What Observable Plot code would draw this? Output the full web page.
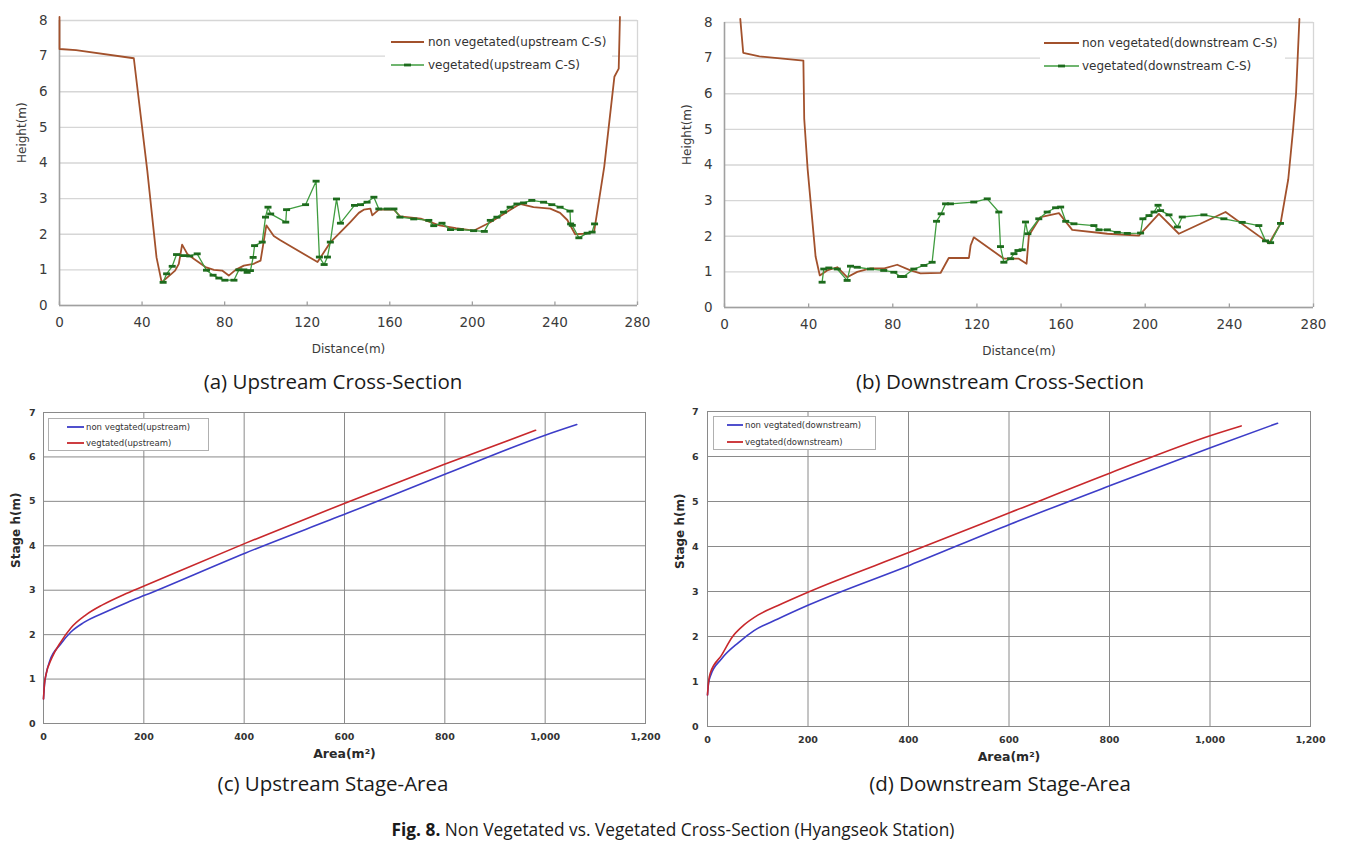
<!DOCTYPE html>
<html>
<head>
<meta charset="utf-8">
<script src="https://cdn.jsdelivr.net/npm/d3@7"></script>
<script src="https://cdn.jsdelivr.net/npm/@observablehq/plot@0.6"></script>
<style>
  html, body { margin: 0; padding: 0; background: #fff; }
  #page { position: relative; width: 1346px; height: 851px; overflow: hidden; background: #fff; }
  .panel { position: absolute; }
  .cap { position: absolute; font-family: "Open Sans", "Noto Sans", sans-serif; color: #1a1a1a; white-space: nowrap; transform: translateX(-50%); line-height: 1.3; }
  .leg { position: absolute; background: #fff; }
</style>
</head>
<body>
<div id="page"></div>
<script>
// ---------- DATA ----------
// (a) Upstream cross-section
const usNonX = [0, 0, 8, 36, 42.5, 47, 49.5, 56, 57.8, 59.4, 61.9, 65, 70.7, 74.8, 78.8, 82, 85.3, 89.3, 94, 97.4, 100.2, 103.8, 107, 125, 131.3, 136, 141, 145, 147.4, 150.6, 151.5, 154.7, 162, 165, 175, 184, 192, 200.6, 208.5, 216, 223, 229.6, 237.7, 242.5, 246, 249.8, 255, 259, 263.9, 268.8, 270.9, 271.5];
const usNonY = [8.1, 7.2, 7.17, 6.94, 3.8, 1.35, 0.65, 0.98, 1.17, 1.71, 1.45, 1.31, 1.08, 1.0, 0.98, 0.84, 1.0, 1.12, 1.17, 1.26, 2.25, 1.95, 1.83, 1.22, 1.78, 2.05, 2.35, 2.6, 2.69, 2.72, 2.53, 2.69, 2.69, 2.5, 2.44, 2.25, 2.17, 2.1, 2.33, 2.6, 2.85, 2.76, 2.72, 2.6, 2.4, 2.0, 2.02, 2.08, 3.9, 6.42, 6.65, 8.1];
const usVegX = [50.2, 51.9, 54.6, 56.7, 60.2, 63.1, 66.7, 71.2, 74.4, 77.2, 80.1, 84.5, 86.9, 89.3, 90.9, 92.5, 93.8, 94.5, 98.2, 99.8, 101, 102.3, 109.6, 110, 119.2, 124.3, 125.9, 128.2, 129.8, 131.2, 134.2, 136.1, 142.9, 145.8, 149, 152.3, 154.7, 158.7, 162, 164.9, 171.6, 178.9, 181.3, 185.3, 189.4, 194.2, 200.6, 205.8, 208.7, 211.9, 215.1, 218.3, 221.6, 224.8, 228.8, 234.5, 238.5, 242.5, 247.3, 247.6, 248.4, 251.6, 255.6, 258, 259.2];
const usVegY = [0.65, 0.89, 1.1, 1.43, 1.4, 1.39, 1.45, 0.99, 0.85, 0.77, 0.71, 0.71, 1.0, 1.0, 0.93, 0.98, 1.35, 1.68, 1.78, 2.48, 2.76, 2.57, 2.34, 2.69, 2.83, 3.49, 1.36, 1.15, 1.36, 1.78, 2.99, 2.31, 2.81, 2.83, 2.9, 3.04, 2.71, 2.71, 2.71, 2.48, 2.43, 2.39, 2.24, 2.31, 2.13, 2.13, 2.1, 2.08, 2.39, 2.48, 2.62, 2.76, 2.85, 2.88, 2.95, 2.9, 2.83, 2.76, 2.65, 2.29, 2.25, 1.9, 2.03, 2.06, 2.29];

// (b) Downstream cross-section
const dsNonX = [7.5, 8.9, 16.6, 37.5, 37.9, 39.5, 43.3, 45.3, 48.8, 53.6, 58.3, 63.1, 69.4, 76, 82.1, 88.4, 93.2, 102.7, 106.6, 116.2, 117, 118.5, 132.8, 139.9, 143.6, 144.7, 150.2, 159, 165.3, 182, 197, 206.5, 216, 238.2, 258.9, 264.3, 268, 270.3, 271.7, 272.3, 273.3];
const dsNonY = [8.1, 7.15, 7.05, 6.93, 5.3, 3.9, 1.43, 0.9, 1.04, 1.13, 0.85, 1.0, 1.1, 1.1, 1.2, 1.04, 0.96, 0.97, 1.39, 1.39, 1.74, 1.97, 1.37, 1.37, 1.23, 2.02, 2.54, 2.65, 2.18, 2.07, 2.02, 2.63, 2.07, 2.68, 1.8, 2.35, 3.6, 5.0, 6.0, 6.77, 8.1];
const dsVegX = [46.4, 47.2, 49.6, 53.6, 58.3, 59.9, 63.1, 69.4, 75.7, 80.5, 83.7, 85.2, 90, 94.8, 98.7, 100.8, 103, 105.1, 107.4, 118.5, 124.9, 130.4, 131.2, 132.8, 136, 137.6, 139.5, 141.5, 143.1, 144.2, 149.4, 153.4, 157.4, 159.8, 162.2, 166.1, 175.6, 178, 182, 186.7, 191.5, 197.8, 198.9, 201.8, 204.2, 206.1, 207.3, 211.3, 215.3, 217.6, 227.9, 237.4, 246.1, 254, 257.2, 259.6, 264.3];
const dsVegY = [0.71, 1.08, 1.11, 1.08, 0.76, 1.16, 1.13, 1.08, 1.04, 0.99, 0.87, 0.87, 1.08, 1.18, 1.27, 2.42, 2.63, 2.91, 2.91, 2.96, 3.05, 2.68, 1.71, 1.27, 1.37, 1.51, 1.6, 1.62, 2.4, 2.07, 2.49, 2.68, 2.8, 2.82, 2.42, 2.35, 2.3, 2.18, 2.18, 2.11, 2.08, 2.09, 2.49, 2.58, 2.68, 2.87, 2.72, 2.6, 2.26, 2.54, 2.6, 2.49, 2.39, 2.3, 1.87, 1.82, 2.36];

// (c) Upstream stage-area
const usNonArea  = [0, 2, 5, 12.6, 33.6, 54.6, 79.8, 126, 168, 203, 403, 605, 802.5, 1000, 1063];
const usNonStage = [0.55, 0.88, 1.1, 1.41, 1.78, 2.06, 2.27, 2.52, 2.73, 2.89, 3.84, 4.73, 5.62, 6.49, 6.73];
const usVegArea  = [0, 2, 5, 16.8, 33.6, 54.6, 84, 117.6, 159.7, 201.7, 403, 600.8, 798, 981];
const usVegStage = [0.55, 0.9, 1.1, 1.48, 1.82, 2.15, 2.44, 2.67, 2.9, 3.1, 4.06, 4.96, 5.83, 6.6];

// (d) Downstream stage-area
const dsNonArea  = [0, 2, 6, 27.7, 62.3, 92.6, 140, 201, 401.7, 603.5, 802.9, 1004.8, 1134.5];
const dsNonStage = [0.7, 0.95, 1.13, 1.5, 1.87, 2.13, 2.39, 2.7, 3.58, 4.5, 5.36, 6.21, 6.74];
const dsVegArea  = [0, 2, 6, 27.7, 49.4, 71, 101, 140.3, 201, 401.7, 603.5, 802.9, 1004.8, 1062];
const dsVegStage = [0.7, 0.98, 1.2, 1.58, 1.99, 2.24, 2.48, 2.69, 2.99, 3.87, 4.76, 5.64, 6.48, 6.68];

// Ticks
const distTicks = [0, 40, 80, 120, 160, 200, 240, 280];
const heightTicks = [0, 1, 2, 3, 4, 5, 6, 7, 8];
const areaTicks = [0, 200, 400, 600, 800, 1000, 1200];
const stageTicks = [0, 1, 2, 3, 4, 5, 6, 7];

// Texts
const legendA = ["non vegetated(upstream C-S)", "vegetated(upstream C-S)"];
const legendB = ["non vegetated(downstream C-S)", "vegetated(downstream C-S)"];
const legendC = ["non vegtated(upstream)", "vegtated(upstream)"];
const legendD = ["non vegtated(downstream)", "vegtated(downstream)"];
const captions = ["(a) Upstream Cross-Section", "(b) Downstream Cross-Section", "(c) Upstream Stage-Area", "(d) Downstream Stage-Area"];
const figLabel = "Fig. 8.";
const figTitle = " Non Vegetated vs. Vegetated Cross-Section (Hyangseok Station)";

// ---------- STYLE ----------
const BROWN = "#a2512c";
const GREEN = "#3f9c3f";
const DKGREEN = "#1d6b1d";
const BLUE = "#3d3dc8";
const RED = "#c8282c";

const zip = (xs, ys) => xs.map((x, i) => ({x, y: ys[i]}));

const dash = {
  draw(ctx) {
    ctx.moveTo(-3.5, -1.4); ctx.lineTo(3.5, -1.4); ctx.lineTo(3.5, 1.4); ctx.lineTo(-3.5, 1.4); ctx.closePath();
  }
};

function crossSection({nonX, nonY, vegX, vegY, width, height, marginLeft, marginRight, marginTop, marginBottom}) {
  const non = zip(nonX, nonY);
  const veg = zip(vegX, vegY);
  return Plot.plot({
    width, height, marginLeft, marginRight, marginTop, marginBottom,
    style: {fontFamily: "DejaVu Sans, sans-serif", fontSize: "13.5px", color: "#3a3a3a", overflow: "visible", background: "transparent"},
    x: {domain: [0, 280], ticks: distTicks, label: null},
    y: {domain: [0, 8], ticks: heightTicks, label: null},
    marks: [
      Plot.gridY(heightTicks, {stroke: "#d6d6d6", strokeOpacity: 1, strokeWidth: 1.3}),
      Plot.ruleX([280], {stroke: "#d6d6d6", strokeWidth: 1.3}),
      Plot.ruleX([0], {stroke: "#a0a0a0", strokeWidth: 1.6}),
      Plot.ruleY([0], {stroke: "#a0a0a0", strokeWidth: 1.6}),
      Plot.ruleX(distTicks, {y1: 0, y2: 0.1, stroke: "#a0a0a0", strokeWidth: 1.3}),
      Plot.axisX(distTicks, {tickSize: 0, tickPadding: 12, label: null}),
      Plot.axisY(heightTicks, {tickSize: 0, tickPadding: 12, label: null}),
      Plot.text(["Distance(m)"], {frameAnchor: "bottom", dy: 44, lineAnchor: "middle", fontSize: 12, fill: "#3a3a3a"}),
      Plot.text(["Height(m)"], {frameAnchor: "left", dx: -37, rotate: -90, lineAnchor: "middle", fontSize: 12, fill: "#3a3a3a"}),
      Plot.line(non, {x: "x", y: "y", stroke: BROWN, strokeWidth: 1.8}),
      Plot.line(veg, {x: "x", y: "y", stroke: GREEN, strokeWidth: 1.3}),
      Plot.dot(veg, {x: "x", y: "y", symbol: dash, fill: DKGREEN, stroke: "none", r: 3})
    ]
  });
}

function stageArea({nonA, nonS, vegA, vegS, width, height, marginLeft, marginRight, marginTop, marginBottom, ypad}) {
  const non = zip(nonA, nonS);
  const veg = zip(vegA, vegS);
  return Plot.plot({
    width, height, marginLeft, marginRight, marginTop, marginBottom,
    style: {fontFamily: "DejaVu Sans, sans-serif", fontSize: "9.5px", fontWeight: "bold", color: "#333", overflow: "visible", background: "transparent"},
    x: {domain: [0, 1200], ticks: areaTicks, tickFormat: d3.format(","), label: null},
    y: {domain: [0, 7], ticks: stageTicks, label: null},
    marks: [
      Plot.gridX(areaTicks, {stroke: "#8a8a8a", strokeOpacity: 1, strokeWidth: 1}),
      Plot.gridY(stageTicks, {stroke: "#8a8a8a", strokeOpacity: 1, strokeWidth: 1}),
      Plot.frame({stroke: "#8a8a8a"}),
      Plot.axisX(areaTicks, {tickSize: 0, tickPadding: 10, tickFormat: d3.format(","), label: null}),
      Plot.axisY(stageTicks, {tickSize: 0, tickPadding: ypad, label: null}),
      Plot.text(["Area(m²)"], {frameAnchor: "bottom", dy: 30, lineAnchor: "middle", fontSize: 12.5, fontWeight: "bold", fill: "#2a2a2a"}),
      Plot.text(["Stage h(m)"], {frameAnchor: "left", dx: -27, rotate: -90, lineAnchor: "middle", fontSize: 12, fontWeight: "bold", fill: "#2a2a2a"}),
      Plot.line(non, {x: "x", y: "y", stroke: BLUE, strokeWidth: 1.6, curve: "monotone-x"}),
      Plot.line(veg, {x: "x", y: "y", stroke: RED, strokeWidth: 1.6, curve: "monotone-x"})
    ]
  });
}

const page = document.getElementById("page");
function place(node, left, top) {
  const d = document.createElement("div");
  d.className = "panel";
  d.style.left = left + "px";
  d.style.top = top + "px";
  d.appendChild(node);
  page.appendChild(d);
  return d;
}

place(crossSection({nonX: usNonX, nonY: usNonY, vegX: usVegX, vegY: usVegY,
  width: 660, height: 365, marginLeft: 59, marginRight: 23, marginTop: 20, marginBottom: 60}), 0, 0);
place(crossSection({nonX: dsNonX, nonY: dsNonY, vegX: dsVegX, vegY: dsVegY,
  width: 670, height: 367, marginLeft: 59, marginRight: 22, marginTop: 22, marginBottom: 60}), 665, 0);
place(stageArea({nonA: usNonArea, nonS: usNonStage, vegA: usVegArea, vegS: usVegStage,
  width: 660, height: 370, marginLeft: 43, marginRight: 15, marginTop: 17, marginBottom: 42, ypad: 8}), 0, 395);
place(stageArea({nonA: dsNonArea, nonS: dsNonStage, vegA: dsVegArea, vegS: dsVegStage,
  width: 686, height: 370, marginLeft: 47, marginRight: 36, marginTop: 16, marginBottom: 39, ypad: 9}), 660, 395);

// ---------- LEGENDS ----------
const NS = "http://www.w3.org/2000/svg";
function legend({left, top, width, height, border, labels, colors, marker, x1, x2, tx, rows, font, size, weight, textColor}) {
  const box = document.createElement("div");
  box.className = "leg";
  Object.assign(box.style, {left: left + "px", top: top + "px", width: width + "px", height: height + "px",
    border: border || "none", boxSizing: "border-box"});
  const svg = document.createElementNS(NS, "svg");
  svg.setAttribute("width", width); svg.setAttribute("height", height);
  svg.style.position = "absolute"; svg.style.left = "0"; svg.style.top = "0"; svg.style.overflow = "visible";
  labels.forEach((lab, i) => {
    const y = rows[i];
    const l = document.createElementNS(NS, "line");
    l.setAttribute("x1", x1); l.setAttribute("x2", x2); l.setAttribute("y1", y); l.setAttribute("y2", y);
    l.setAttribute("stroke", colors[i]); l.setAttribute("stroke-width", i === 0 || !marker ? 1.8 : 1.3);
    svg.appendChild(l);
    if (marker && i === 1) {
      const r = document.createElementNS(NS, "rect");
      const cx = (x1 + x2) / 2;
      r.setAttribute("x", cx - 3.5); r.setAttribute("y", y - 1.4); r.setAttribute("width", 7); r.setAttribute("height", 2.8);
      r.setAttribute("fill", DKGREEN);
      svg.appendChild(r);
    }
    const t = document.createElementNS(NS, "text");
    t.setAttribute("x", tx); t.setAttribute("y", y); t.setAttribute("dy", "0.35em");
    t.setAttribute("font-family", font); t.setAttribute("font-size", size); t.setAttribute("font-weight", weight || "normal");
    t.setAttribute("fill", textColor);
    t.textContent = lab;
    svg.appendChild(t);
  });
  box.appendChild(svg);
  page.appendChild(box);
}

legend({left: 385, top: 30, width: 227, height: 50, labels: legendA, colors: [BROWN, GREEN], marker: true,
  x1: 6, x2: 39, tx: 43, rows: [12, 35], font: "DejaVu Sans", size: 12, textColor: "#333"});
legend({left: 1040, top: 32, width: 245, height: 50, labels: legendB, colors: [BROWN, GREEN], marker: true,
  x1: 4, x2: 39, tx: 42, rows: [11, 34], font: "DejaVu Sans", size: 12, textColor: "#333"});
legend({left: 48, top: 418, width: 161, height: 33, border: "1px solid #b0b0b0", labels: legendC, colors: [BLUE, RED], marker: false,
  x1: 18, x2: 35, tx: 37, rows: [8, 24], font: "DejaVu Sans", size: 8.5, textColor: "#333"});
legend({left: 713, top: 416, width: 163, height: 34, border: "1px solid #b0b0b0", labels: legendD, colors: [BLUE, RED], marker: false,
  x1: 13, x2: 29, tx: 31, rows: [8, 25], font: "DejaVu Sans", size: 8.5, textColor: "#333"});

// ---------- CAPTIONS ----------
const capPos = [[333, 368], [1000, 368], [333, 770], [1000, 770]];
captions.forEach((c, i) => {
  const d = document.createElement("div");
  d.className = "cap";
  d.style.left = capPos[i][0] + "px";
  d.style.top = capPos[i][1] + "px";
  d.style.fontSize = "20.5px";
  d.textContent = c;
  page.appendChild(d);
});
const fig = document.createElement("div");
fig.className = "cap";
fig.style.left = "673px";
fig.style.top = "819px";
fig.style.fontSize = "17.3px";
const b = document.createElement("b");
b.textContent = figLabel;
fig.appendChild(b);
fig.appendChild(document.createTextNode(figTitle));
page.appendChild(fig);
</script>
</body>
</html>
